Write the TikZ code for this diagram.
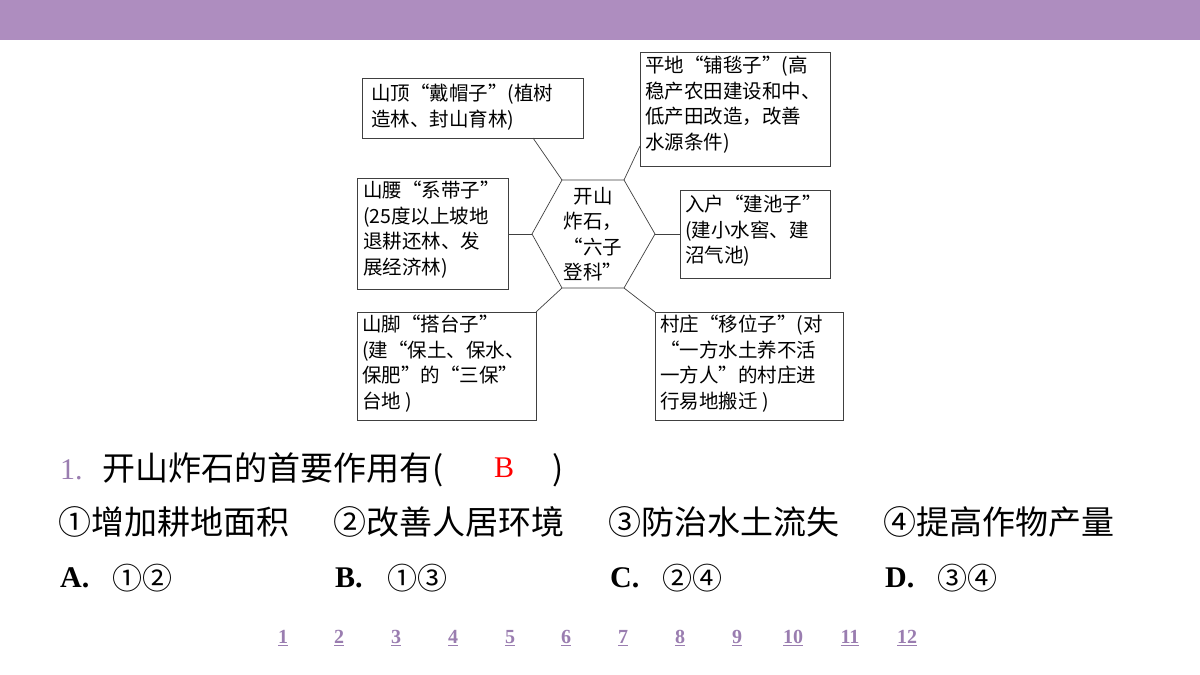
\documentclass[tikz,border=0pt]{standalone}
\usepackage{fontspec}
\setmainfont{Liberation Serif}
\newfontfamily\cjk{Noto Sans CJK SC}
\newfontfamily\lserif{Liberation Serif}
\definecolor{barpurple}{HTML}{AE8DBF}
\definecolor{numpurple}{HTML}{9A7DB0}
\begin{document}
\begin{tikzpicture}[x=1pt,y=-1pt,
  box/.style={draw=black!75,line width=0.7pt},
  btext/.style={anchor=north west,align=left,inner sep=0pt,font=\cjk\fontsize{19.5}{25.5}\selectfont},
  conn/.style={draw=black!75,line width=0.7pt},
  big/.style={anchor=west,inner sep=0pt,font=\cjk\fontsize{33}{36}\selectfont},
  pg/.style={inner sep=0pt,text=numpurple,font=\lserif\bfseries\fontsize{20}{22}\selectfont}]
\useasboundingbox (0,0) rectangle (1200,675);
\fill[white] (0,0) rectangle (1200,675);
\fill[barpurple] (0,0) rectangle (1200,40);
% hexagon
\draw[box] (532,234) coordinate (hL) -- (562,180) coordinate (hTL) -- (624,180) coordinate (hTR) -- (655,234) coordinate (hR) -- (624,288) coordinate (hBR) -- (562,288) coordinate (hBL) -- cycle;
\node[align=center,inner sep=0pt,font=\cjk\fontsize{19.5}{25.5}\selectfont] (hex) at (593,234) {开山\\炸石，\\“六子\\登科”};
% boxes
\draw[box] (362,78) rectangle (583,138);
\node[btext] (t1) at (371,84) {山顶“戴帽子”(植树\\造林、封山育林)};
\draw[box] (640,52) rectangle (830,166);
\node[btext] (t2) at (645,56) {平地“铺毯子”(高\\稳产农田建设和中、\\低产田改造，改善\\水源条件)};
\draw[box] (357,178) rectangle (508,289);
\node[btext] (t3) at (363,181) {山腰“系带子”\\(25度以上坡地\\退耕还林、发\\展经济林)};
\draw[box] (680,190) rectangle (830,278);
\node[btext] (t4) at (685,195) {入户“建池子”\\(建小水窖、建\\沼气池)};
\draw[box] (357,312) rectangle (536,420);
\node[btext] (t5) at (362,315) {山脚“搭台子”\\(建“保土、保水、\\保肥”的“三保”\\台地 )};
\draw[box] (655,312) rectangle (843,420);
\node[btext] (t6) at (660,315) {村庄“移位子”(对\\“一方水土养不活\\一方人”的村庄进\\行易地搬迁 )};
% connectors
\coordinate (c1) at (533,138); \draw[conn] (c1) -- (hTL);
\coordinate (c2) at (640,146); \draw[conn] (hTR) -- (c2);
\coordinate (c3) at (508,234); \draw[conn] (c3) -- (hL);
\coordinate (c4) at (680,234); \draw[conn] (hR) -- (c4);
\coordinate (c5) at (536,312); \draw[conn] (hBL) -- (c5);
\coordinate (c6) at (655,312); \draw[conn] (hBR) -- (c6);
% question
\node[anchor=west,inner sep=0pt,text=numpurple,font=\lserif\fontsize{30}{32}\selectfont] (qn) at (60,470) {1.};
\node[big] (q) at (102,470) {开山炸石的首要作用有(};
\node[anchor=west,inner sep=0pt,text=red,font=\lserif\fontsize{30}{32}\selectfont] (ans) at (494,468) {B};
\node[big] (qc) at (552,470) {)};
\node[big] (o1) at (58,522) {①增加耕地面积};
\node[big] (o2) at (333,522) {②改善人居环境};
\node[big] (o3) at (608,522) {③防治水土流失};
\node[big] (o4) at (883,522) {④提高作物产量};
\foreach \x/\l/\c in {60/A./①②,335/B./①③,610/C./②④,885/D./③④}{
  \node[anchor=west,inner sep=0pt,font=\lserif\bfseries\fontsize{30}{32}\selectfont] at (\x,578) {\l};
  \node[anchor=west,inner sep=0pt,font=\cjk\fontsize{30}{32}\selectfont] at (\x+52,578) {\c};
}
\foreach \x/\n in {283/1,339/2,396/3,453/4,510/5,566/6,623/7,680/8,737/9,793/10,850/11,907/12}{
  \node[pg] at (\x,638) {\underline{\n}};
}
\end{tikzpicture}
\end{document}
